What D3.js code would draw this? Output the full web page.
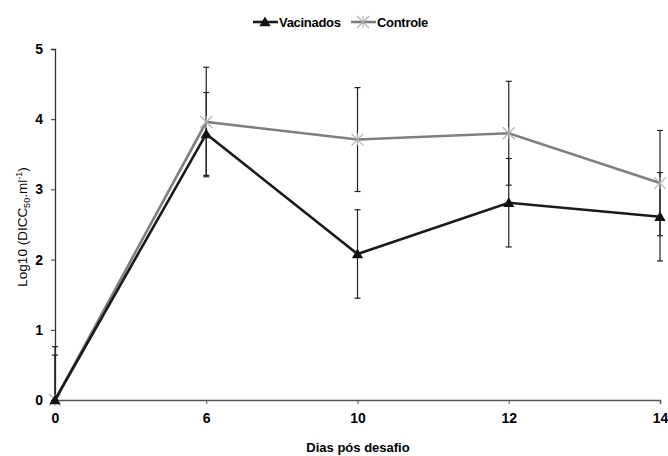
<!DOCTYPE html>
<html>
<head>
<meta charset="utf-8">
<script src="https://cdn.jsdelivr.net/npm/d3@7"></script>
<style>
body{margin:0;background:#fff;}
svg{font-family:"Liberation Sans",Arial,sans-serif;}
.tick text{font-size:14px;font-weight:bold;fill:#000;}
</style>
</head>
<body>
<svg width="668" height="456"></svg>
<script>
// dias pos desafio
var days = ["0","6","10","12","14"];
var vacinados = [0, 3.79, 2.08, 2.81, 2.61];
var vacinadosErr = [0.64, 0.59, 0.63, 0.63, 0.63];
var controle = [0, 3.96, 3.71, 3.80, 3.09];
var controleErr = [0.76, 0.78, 0.74, 0.74, 0.75];
var yTicks = [0,1,2,3,4,5];

var svg = d3.select("svg");
var mLeft = 55, mRight = 660, mTop = 49, mBottom = 400;

var x = d3.scalePoint().domain(days).range([mLeft, mRight]);
var y = d3.scaleLinear().domain([0,5]).range([mBottom, mTop]);

var series = [
  {name:"Vacinados", vals:vacinados, err:vacinadosErr, color:"#1a1a1a", marker:"tri"},
  {name:"Controle", vals:controle, err:controleErr, color:"#7f7f7f", marker:"star"}
];

// axes
var yAxis = svg.append("g")
  .attr("transform","translate(" + mLeft + ",0)")
  .call(d3.axisLeft(y).tickValues(yTicks).tickFormat(d3.format("d")).tickSize(4).tickPadding(8));
yAxis.select(".domain").attr("stroke","#333").attr("stroke-width",1.3);
yAxis.selectAll(".tick line").attr("stroke","#333");

var xAxis = svg.append("g")
  .attr("transform","translate(0," + mBottom + ")")
  .call(d3.axisBottom(x).tickSize(4).tickSizeOuter(4).tickPadding(9));
xAxis.select(".domain").attr("stroke","#555").attr("stroke-width",1.5);
xAxis.selectAll(".tick line").attr("stroke","#555");

svg.append("text")
  .attr("x", 358).attr("y", 452)
  .attr("text-anchor","middle")
  .style("font-size","13px").style("font-weight","bold")
  .text("Dias pós desafio");

var yl = svg.append("text")
  .attr("transform","translate(27,227) rotate(-90)")
  .attr("text-anchor","middle")
  .style("font-size","13.5px");
yl.append("tspan").text("Log10 (DICC");
yl.append("tspan").attr("dy",3).style("font-size","9px").text("50");
yl.append("tspan").attr("dy",-3).text(".ml");
yl.append("tspan").attr("dy",-5).style("font-size","9px").text("-1");
yl.append("tspan").attr("dy",5).text(")");

// error bars (clipped at axis minimum)
series.forEach(function(s){
  s.vals.forEach(function(v,i){
    var hi = v + s.err[i], lo = Math.max(0, v - s.err[i]);
    var cx = x(days[i]);
    svg.append("line").attr("x1",cx).attr("x2",cx)
      .attr("y1",y(hi)).attr("y2",y(lo))
      .attr("stroke","#222").attr("stroke-width",1.2);
    svg.append("line").attr("x1",cx-3).attr("x2",cx+3)
      .attr("y1",y(hi)).attr("y2",y(hi))
      .attr("stroke","#222").attr("stroke-width",1.2);
    if (v - s.err[i] >= 0) {
      svg.append("line").attr("x1",cx-3).attr("x2",cx+3)
        .attr("y1",y(lo)).attr("y2",y(lo))
        .attr("stroke","#222").attr("stroke-width",1.2);
    }
  });
});

var line = d3.line().x(function(d,i){ return x(days[i]); }).y(function(d){ return y(d); });

function drawMarker(g, type, cx, cy){
  if (type === "tri") {
    g.append("path").attr("d", d3.symbol().type(d3.symbolTriangle).size(55)())
      .attr("transform","translate(" + cx + "," + (cy+1) + ")")
      .attr("fill","#111");
  } else {
    var r = 6;
    g.append("path")
      .attr("d","M" + (cx-r) + "," + (cy-r) + "L" + (cx+r) + "," + (cy+r) +
                "M" + (cx-r) + "," + (cy+r) + "L" + (cx+r) + "," + (cy-r) +
                "M" + cx + "," + (cy-r) + "L" + cx + "," + (cy+r))
      .attr("stroke","#b0b0b0").attr("stroke-width",1.1).attr("fill","none");
  }
}

// draw controle below vacinados
series.slice().reverse().forEach(function(s){
  svg.append("path").datum(s.vals)
    .attr("d", line).attr("fill","none")
    .attr("stroke", s.color).attr("stroke-width", 2.6);
  s.vals.forEach(function(v,i){ drawMarker(svg, s.marker, x(days[i]), y(v)); });
});

// legend
var leg = svg.append("g");
var lx = [253, 351];
series.forEach(function(s,i){
  var g = leg.append("g");
  g.append("line").attr("x1",lx[i]).attr("x2",lx[i]+25).attr("y1",22).attr("y2",22)
    .attr("stroke",s.color).attr("stroke-width",2.6);
  drawMarker(g, s.marker, lx[i]+12, 22);
  g.append("text").attr("x",lx[i]+26).attr("y",27)
    .style("font-size","13px").style("font-weight","bold")
    .style("letter-spacing","-0.3px")
    .text(s.name);
});
</script>
</body>
</html>
